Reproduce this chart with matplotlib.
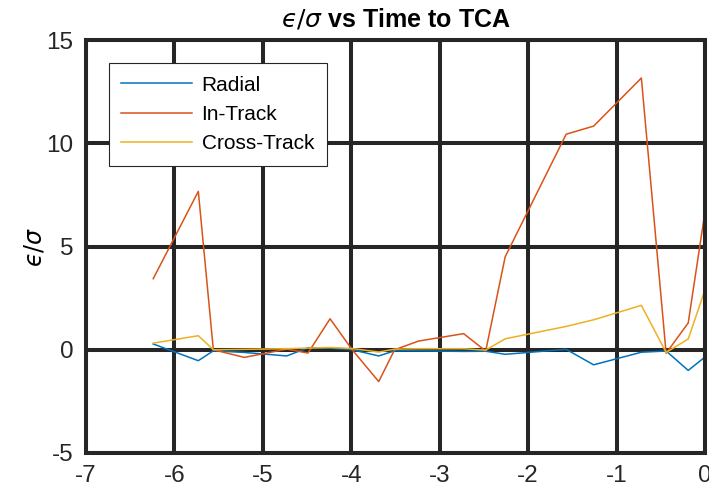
import matplotlib
matplotlib.use("Agg")
import matplotlib.pyplot as plt

plt.rcParams['font.family'] = ['Liberation Sans', 'DejaVu Sans']
plt.rcParams['mathtext.fontset'] = 'dejavusans'
plt.rcParams['axes.unicode_minus'] = False

# time to TCA (days) and normalised error per component
time_to_tca = [-6.24, -5.73, -5.56, -5.21, -4.73, -4.49, -4.24, -3.99, -3.69, -3.51,
               -3.24, -2.73, -2.48, -2.26, -1.57, -1.26, -0.72, -0.44, -0.19, 0.0]
radial = [0.28, -0.53, -0.05, -0.13, -0.30, 0.10, 0.08, 0.0, -0.30, -0.05,
          -0.05, -0.08, -0.07, -0.22, 0.02, -0.73, -0.12, -0.06, -1.0, -0.35]
in_track = [3.44, 7.67, 0.0, -0.37, 0.03, -0.16, 1.5, 0.0, -1.54, 0.0,
            0.42, 0.78, -0.06, 4.5, 10.44, 10.83, 13.16, -0.17, 1.3, 6.7]
cross_track = [0.32, 0.68, 0.0, 0.02, 0.05, 0.08, 0.11, 0.06, -0.11, 0.03,
               0.05, 0.05, -0.02, 0.53, 1.13, 1.45, 2.15, -0.13, 0.52, 2.91]

x_ticks = [-7, -6, -5, -4, -3, -2, -1, 0]
y_ticks = [-5, 0, 5, 10, 15]

dark = "#262626"

fig = plt.figure(figsize=(7.09, 4.91), dpi=100)
ax = fig.add_axes([0.1213, 0.0774, 0.8731, 0.8411])

ax.plot(time_to_tca, radial, color="#0072BD", linewidth=1.1, label="Radial")
ax.plot(time_to_tca, in_track, color="#D95319", linewidth=1.1, label="In-Track")
ax.plot(time_to_tca, cross_track, color="#EDB120", linewidth=1.1, label="Cross-Track")

ax.set_xlim(-7, 0)
ax.set_ylim(-5, 15)
ax.set_xticks(x_ticks)
ax.set_yticks(y_ticks)
ax.tick_params(length=0, labelsize=17.5, pad=9, colors=dark)

ax.grid(True, color=dark, linewidth=2.9)
ax.set_axisbelow(True)
for s in ax.spines.values():
    s.set_color(dark)
    s.set_linewidth(2.9)

ax.set_title("$ϵ/\\sigma$ vs Time to TCA", fontsize=18, fontweight="bold", pad=10)
ax.set_ylabel("$ϵ/\\sigma$", fontsize=17, labelpad=0)

leg = ax.legend(loc="upper left", bbox_to_anchor=(0.037, 0.944), borderaxespad=0,
                fontsize=15, handlelength=3.4, handletextpad=0.45, labelspacing=0.5,
                borderpad=0.6, fancybox=False, framealpha=1)
leg.get_frame().set_edgecolor(dark)
leg.get_frame().set_linewidth(0.8)

fig.savefig("out.png", dpi=100)
